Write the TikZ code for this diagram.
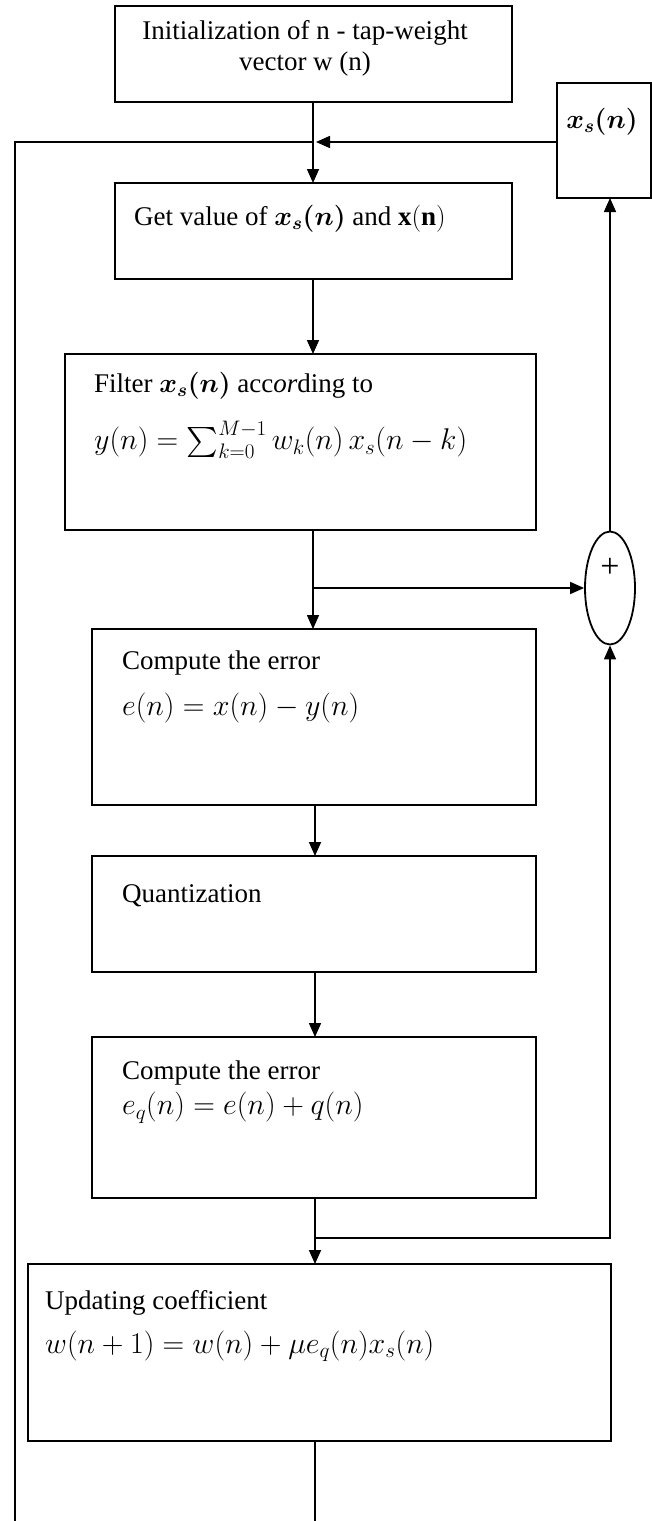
\RequirePackage{fix-cm}
\documentclass[tikz,border=0pt]{standalone}
\usepackage{amsmath,amssymb}
\usepackage{fontspec}
\setmainfont{Liberation Serif}
\usetikzlibrary{arrows.meta,shapes.geometric,calc}
\newcommand{\eqsize}{\fontsize{30}{30}\selectfont}
\tikzset{
    >={Triangle[length=14pt,width=12pt]},
    box/.style={
        draw=black,
        line width=1.1pt,
        rectangle,
        inner sep=0pt,
        outer sep=0pt,
    },
    boxtext/.style={
        anchor=west,
        align=left,
        inner sep=0pt,
        font=\fontsize{27}{32}\selectfont,
    },
    flow/.style={line width=1.6pt},
    backline/.style={line width=1.2pt},
}

\begin{document}
\begin{tikzpicture}[x=1pt,y=-1pt]
            \useasboundingbox (0,0) rectangle (652,1521);

            \node[box, minimum width=397pt, minimum height=96pt] (init) at (313.5,54) {};
            \node[box, minimum width=397pt, minimum height=96pt] (get) at (313.5,231) {};
            \node[box, minimum width=471pt, minimum height=176pt] (filt) at (300.5,442) {};
            \node[box, minimum width=444pt, minimum height=176pt] (err) at (314,717) {};
            \node[box, minimum width=444pt, minimum height=116pt] (quant) at (314,914) {};
            \node[box, minimum width=444pt, minimum height=161pt] (eq) at (314,1117.5) {};
            \node[box, minimum width=583pt, minimum height=177pt] (upd) at (319.5,1352.5) {};
            \node[box, minimum width=94pt, minimum height=115pt] (xs) at (604,140.5) {};
            \node[draw=black, line width=1.8pt, ellipse, inner sep=0pt,
                  minimum width=50pt, minimum height=113pt] (sum) at (610,588) {};

            \node[boxtext, anchor=center, align=center, font=\fontsize{27}{31}\selectfont]
                (init-txt) at (305,48) {Initialization of n - tap-weight\\vector w (n)};
            \node[boxtext] (get-txt) at (134,219) {Get value of $\boldsymbol{x_s(n)}$ and $\mathbf{x(n)}$};
            \node[boxtext] (filt-txt) at (94,415)
                {Filter $\boldsymbol{x_s(n)}$ acc\textit{or}ding to\\[21pt]\eqsize$y(n)=\sum_{k=0}^{M-1}w_k(n)\,x_s(n-k)$};
            \node[boxtext] (err-txt) at (122,687) {Compute the error\\[14pt]\eqsize$e(n)=x(n)-y(n)$};
            \node[boxtext] (quant-txt) at (122,896) {Quantization};
            \node[boxtext] (eq-txt) at (122,1092) {Compute the error\\[3pt]\eqsize$e_q(n)=e(n)+q(n)$};
            \node[boxtext] (upd-txt) at (45,1326)
                {Updating coefficient\\[12pt]\eqsize$w(n+1)=w(n)+\mu e_q(n)x_s(n)$};
            \node[boxtext, anchor=center] (xs-txt) at (602,122) {$\boldsymbol{x_s(n)}$};
            \node[font=\fontsize{34}{36}\selectfont, inner sep=0pt] (plus) at (610,568) {+};

            \coordinate (join) at (313,142);
            \coordinate (branch) at (313,588);
            \coordinate (feed) at (315,1238);
            \coordinate (loopend) at (15,1521);
            \coordinate (updend) at (315,1521);

            \draw[flow] (init.south -| join) -- (join);
            \draw[flow,->] (join) -- (get.north -| join);
            \draw[flow,->,shorten >=3pt] (xs.west |- join) -- (join);
            \draw[backline] (loopend) |- (join);
            \draw[flow,->] (get.south -| join) -- (filt.north -| join);
            \draw[flow] (filt.south -| branch) -- (branch);
            \draw[flow,->] (branch) -- (err.north -| branch);
            \draw[flow,->] (branch) -- (sum.west);
            \draw[flow,->] (sum.north) -- (sum.north |- xs.south);
            \draw[flow,->] (err.south -| feed) -- (quant.north -| feed);
            \draw[flow,->] (quant.south -| feed) -- (eq.north -| feed);
            \draw[flow] (eq.south -| feed) -- (feed);
            \draw[flow,->] (feed) -- (upd.north -| feed);
            \draw[flow,->] (feed) -| (sum.south);
            \draw[backline] (upd.south -| updend) -- (updend);
        \end{tikzpicture}
\end{document}
